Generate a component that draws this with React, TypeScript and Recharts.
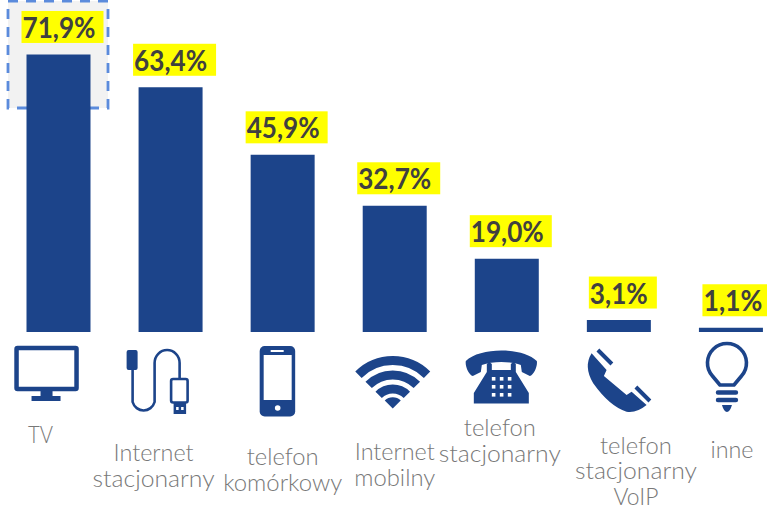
import { BarChart, Bar, XAxis, YAxis, LabelList } from "recharts";

const labelLines = [
  ["TV"],
  ["Internet", "stacjonarny"],
  ["telefon", "komórkowy"],
  ["Internet", "mobilny"],
  ["telefon", "stacjonarny"],
  ["telefon", "stacjonarny", "VoIP"],
  ["inne"],
];
const values = [71.9, 63.4, 45.9, 32.7, 19.0, 3.1, 1.1];

const data = labelLines.map((lines, i) => ({ name: lines.join(" "), value: values[i] }));

const BLUE = "#1c448a";
const GREY = "#787878";

// where each tick's text sits: centre offset from the bar, first baseline
const textDx = [-18, -17, 0, 0, -7, 17, 1];
const textTop = [443, 461, 465, 460, 436, 453.5, 458];
// measured line widths, the original font is wider than Lato
const lineWidths: Record<string, number> = {
  TV: 25,
  Internet: 80,
  stacjonarny: 122,
  telefon: 72,
  "komórkowy": 119,
  mobilny: 81,
  VoIP: 45,
  inne: 43,
};
// picture x of the bar centre the icon was measured against
const iconRef = [58, 170, 283, 395, 507, 619, 731];

const boxWidths = [82, 83, 82, 83, 82, 68, 65];
const textWidths = [73, 73, 73, 73, 73, 58, 59];

function Icon({ i }: { i: number }) {
  if (i === 0) {
    return (
      <g fill={BLUE}>
        <rect x={16} y={348} width={60} height={41} rx={1} fill="#fff" stroke={BLUE} strokeWidth={4.5} />
        <rect x={40} y={391} width={12} height={6} />
        <rect x={31} y={396} width={29} height={5} />
      </g>
    );
  }
  if (i === 1) {
    return (
      <g>
        <rect x={126} y={350} width={11} height={20} rx={2} fill={BLUE} />
        <path
          d="M132 368 V402 A11.5 12 0 0 0 154 402 V376 V363 A12.5 13 0 0 1 179 363 V379"
          fill="none"
          stroke={BLUE}
          strokeWidth={2.6}
        />
        <rect x={170.5} y={379} width={16.5} height={23.5} rx={2} fill="#fff" stroke={BLUE} strokeWidth={2.6} />
        <rect x={173} y={403} width={12.5} height={11} fill={BLUE} />
        <rect x={175.5} y={407} width={2.5} height={3} fill="#fff" />
        <rect x={180.5} y={407} width={2.5} height={3} fill="#fff" />
      </g>
    );
  }
  if (i === 2) {
    return (
      <g>
        <rect x={260} y={346} width={35.5} height={70.5} rx={5} fill={BLUE} />
        <rect x={264} y={355} width={28} height={45} fill="#fff" />
        <rect x={271} y={350} width={13} height={2} fill="#fff" />
        <circle cx={278} cy={408} r={2.8} fill="#fff" />
      </g>
    );
  }
  if (i === 3) {
    return (
      <g fill="none" stroke={BLUE} strokeWidth={9}>
        <path d="M358.7 374.7 A48.5 48.5 0 0 1 427.3 374.7" />
        <path d="M368.9 384.9 A34 34 0 0 1 417.1 384.9" />
        <path d="M378.9 394.9 A20 20 0 0 1 407.1 394.9" />
        <path d="M385 400.5 L393 408.5 L401 400.5 A11.5 11.5 0 0 0 385 400.5 Z" fill={BLUE} stroke="none" />
      </g>
    );
  }
  if (i === 4) {
    const keyX = [492, 500, 508];
    const keyY = [377, 385, 393];
    return (
      <g fill={BLUE}>
        <path d="M466 361 C480 347 523 347 537 361 C538 366 534 375 530 376 L522 372 L521 365 C510 361 493 361 482 365 L481 372 L473 376 C469 375 465 366 466 361 Z" />
        <path d="M487 364 Q489.5 361 492 364 V370 H511 V364 Q513.5 361 516 364 V372 L529 393 V403.5 H474 V393 L487 372 Z" />
        {keyY.map((y) => keyX.map((x) => <rect key={`${x}-${y}`} x={x} y={y} width={3.6} height={3.6} fill="#fff" />))}
      </g>
    );
  }
  if (i === 5) {
    return (
      <g>
        <path
          d="M591.7 353.3 L606.7 370 L604 376 L626.7 395 L631.7 391.7 L646.7 405 Q636.7 413.3 626.7 411.7 Q610 406.7 593.3 383.3 Q583.3 366.7 591.7 353.3 Z"
          fill={BLUE}
        />
        <path d="M598 350 L612 364 M636 387 L650 401" stroke={BLUE} strokeWidth={4} />
      </g>
    );
  }
  return (
    <g>
      <path
        d="M720 385 L712.5 376 A19.5 19.5 0 1 1 741.5 376 L734 385 Z"
        fill="#fff"
        stroke={BLUE}
        strokeWidth={3.6}
        strokeLinejoin="round"
      />
      <path d="M718 392.5 H736 M718 400 H736" stroke={BLUE} strokeWidth={4.4} strokeLinecap="round" />
      <path d="M722 405 H732 Q730 412 727 412 Q724 412 722 405 Z" fill={BLUE} />
    </g>
  );
}

function CategoryTick(props: any) {
  const { x, payload } = props;
  const i = data.findIndex((d) => d.name === payload.value);
  const lines = labelLines[i];
  return (
    <g>
      <g transform={`translate(${x - iconRef[i]},0)`}>
        <Icon i={i} />
      </g>
      {lines.map((line, k) => (
        <text
          key={k}
          x={x + textDx[i]}
          y={textTop[i] + k * 25.5}
          textAnchor="middle"
          fontFamily="Lato, sans-serif"
          fontWeight={300}
          fontSize={23}
          fill={GREY}
          textLength={lineWidths[line]}
          lengthAdjust="spacingAndGlyphs"
        >
          {line}
        </text>
      ))}
    </g>
  );
}

function ValueLabel(props: any) {
  const { x, y, width, value, index } = props;
  const w = boxWidths[index];
  const left = x + width / 2 + 4 - w / 2;
  const text = `${Number(value).toFixed(1).replace(".", ",")}%`;
  return (
    <g>
      <rect x={left} y={y - 43.5} width={w} height={32} fill="#ffff00" />
      <text
        x={left + 1}
        y={y - 16.5}
        fontFamily="Lato, sans-serif"
        fontWeight={700}
        fontSize={28}
        fill="#404040"
        textLength={textWidths[index]}
        lengthAdjust="spacingAndGlyphs"
      >
        {text}
      </text>
    </g>
  );
}

export default function App() {
  return (
    <div style={{ position: "absolute", left: 0, top: 0, width: 767, height: 507, overflow: "hidden", background: "#fff" }}>
      <svg width={767} height={507} style={{ position: "absolute", left: 0, top: 0 }}>
        <rect
          x={8}
          y={1}
          width={100}
          height={107}
          fill="#f2f2f2"
          stroke="#5b8bdc"
          strokeWidth={2.8}
          strokeDasharray="10 8"
        />
      </svg>
      <div style={{ position: "absolute", left: 0, top: 0 }}>
        <BarChart
          width={787}
          height={507}
          data={data}
          margin={{ top: 23.2, right: 0, bottom: 0, left: 2.5 }}
          barSize={64}
          style={{ background: "transparent" }}
        >
          <XAxis dataKey="name" height={175} axisLine={false} tickLine={false} interval={0} tick={<CategoryTick />} />
          <YAxis hide domain={[0, 80]} />
          <Bar dataKey="value" fill={BLUE} isAnimationActive={false}>
            <LabelList dataKey="value" content={<ValueLabel />} />
          </Bar>
        </BarChart>
      </div>
    </div>
  );
}
